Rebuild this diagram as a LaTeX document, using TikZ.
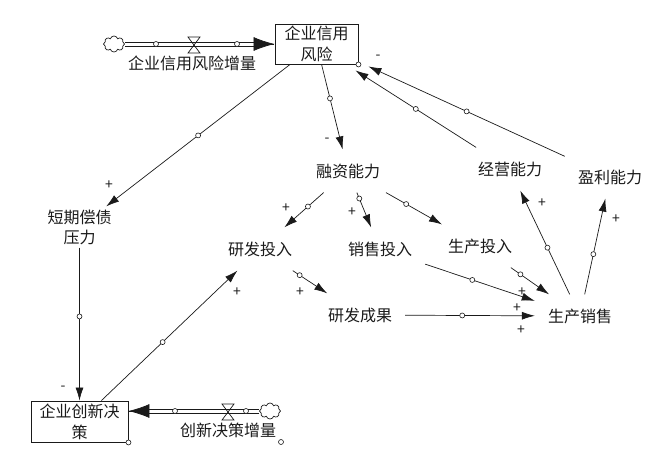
\documentclass[tikz,border=0pt]{standalone}
\usepackage{fontspec}
\setmainfont{Noto Sans CJK SC}
\usepackage{tikz}
\usetikzlibrary{arrows.meta,shapes.symbols}
\definecolor{inkmain}{HTML}{1A1A1A}
\tikzset{var/.style={inner xsep=13pt,inner ysep=14pt,text=inkmain,font=\fontsize{16}{20}\selectfont},
varml/.style={var,align=center,inner sep=3pt},
stock/.style={draw=inkmain,line width=0.9pt,align=center,inner sep=0pt,text=inkmain,font=\fontsize{16}{21}\selectfont},
link/.style={-{Latex[length=13pt,width=8pt]},line width=0.7pt,inkmain},
rail/.style={line width=0.8pt,inkmain},
pipehead/.style={-{Latex[length=21pt,width=14pt]},line width=0.7pt,inkmain},
pin/.style={circle,draw=inkmain,fill=white,inner sep=0pt,minimum size=5pt,line width=0.6pt},
pol/.style={inner sep=0pt,text=inkmain,font=\fontsize{14}{14}\selectfont},
puff/.style={cloud,draw=inkmain,cloud puffs=8,aspect=1.3,minimum width=21pt,minimum height=16pt,inner sep=0pt,line width=0.7pt},
valve/.pic={\draw[inkmain,line width=0.7pt] (-6,-8) -- (6,-8) -- (-6,8) -- (6,8) -- cycle;}}

\begin{document}
\begin{tikzpicture}[x=1pt,y=-1pt]
\useasboundingbox (0,0) rectangle (661,451);
% stocks
\node[stock,minimum width=83pt,minimum height=40pt] (risk) at (316.5,44) {企业信用\\风险};
\node[stock,minimum width=97pt,minimum height=41pt] (innov) at (79.5,421.5) {企业创新决\\策};
% variables
\node[var] (fin) at (348,171) {融资能力};
\node[var] (oper) at (510,169) {经营能力};
\node[var] (prof) at (610,177) {盈利能力};
\node[varml] (debt) at (79.5,227) {短期偿债\\压力};
\node[var] (rdin) at (260,249) {研发投入};
\node[var] (sale) at (380,249) {销售投入};
\node[var] (prodin) at (480,246) {生产投入};
\node[var] (rdout) at (360,315) {研发成果};
\node[var] (ps) at (580,316) {生产销售};
% flows
\node[puff] (srcA) at (114,44) {};
\node[puff] (srcB) at (270,411) {};
\coordinate (inB) at (innov.east |- srcB.west);
\foreach \d in {-2,2} {
 \draw[rail] ([yshift=\d pt]srcA.east) -- ([yshift=\d pt,xshift=-18pt]risk.west);
 \draw[rail] ([yshift=\d pt]srcB.west) -- ([yshift=\d pt,xshift=18pt]inB);
}
\draw[pipehead] ([xshift=-1pt]risk.west) -- (risk.west);
\draw[pipehead] ([xshift=1pt]inB) -- (inB);
\pic at (194,45) {valve};
\pic at (228,412) {valve};
\node[pin] (pa1) at (156,44) {};
\node[pin] (pa2) at (237,44) {};
\node[pin] (pb1) at (175,411) {};
\node[pin] (pb2) at (246,411) {};
\node[var,inner sep=0pt] (rateA) at (192,63) {企业信用风险增量};
\node[var,inner sep=0pt] (rateB) at (228,430) {创新决策增量};
% links
\draw[link] (risk) -- node[pin,pos=.4] (k1) {} (fin);
\draw[link] (risk) -- node[pin] (k2) {} (debt);
\draw[link] (oper) -- node[pin] (k3) {} ([shift={(-3,6)}]risk.south east);
\draw[link] (prof) -- node[pin] (k4) {} ([shift={(10,2)}]risk.south east);
\draw[link] (fin) -- node[pin,pos=.4] (k5) {} (rdin);
\draw[link] (fin) -- node[pin,pos=.17] (k6) {} (sale);
\draw[link] (fin) -- node[pin,pos=.36] (k7) {} (prodin);
\draw[link] (rdin) -- node[pin,pos=.2] (k8) {} (rdout);
\draw[link] (innov) -- node[pin,pos=.45] (k9) {} (rdin);
\draw[link] (debt) -- node[pin,pos=.45] (k10) {} (innov);
\draw[link] (sale) -- node[pin,pos=.43] (k11) {} (ps);
\draw[link] (prodin) -- node[pin,pos=.25] (k12) {} (ps);
\draw[link] (rdout) -- node[pin,pos=.44] (k13) {} (ps);
\draw[link] (ps) -- node[pin,pos=.45] (k14) {} (oper);
\draw[link] (ps) -- node[pin,pos=.42] (k15) {} (prof);
\node[pin] (cA) at (risk.south east) {};
\node[pin] (cB) at (innov.south east) {};
\node[pin] (cC) at (281,442) {};
% polarities
\foreach \x/\y/\s [count=\i] in {327/140/-,109/185/+,378/57/-,286/208/+,352/212/+,300/292/+,237/292/+,63/388/-,522/292/+,517/308/+,521/330/+,542/203/+,616/219/+}
 \node[pol] (pol\i) at (\x,\y) {\s};
\end{tikzpicture}
\end{document}
